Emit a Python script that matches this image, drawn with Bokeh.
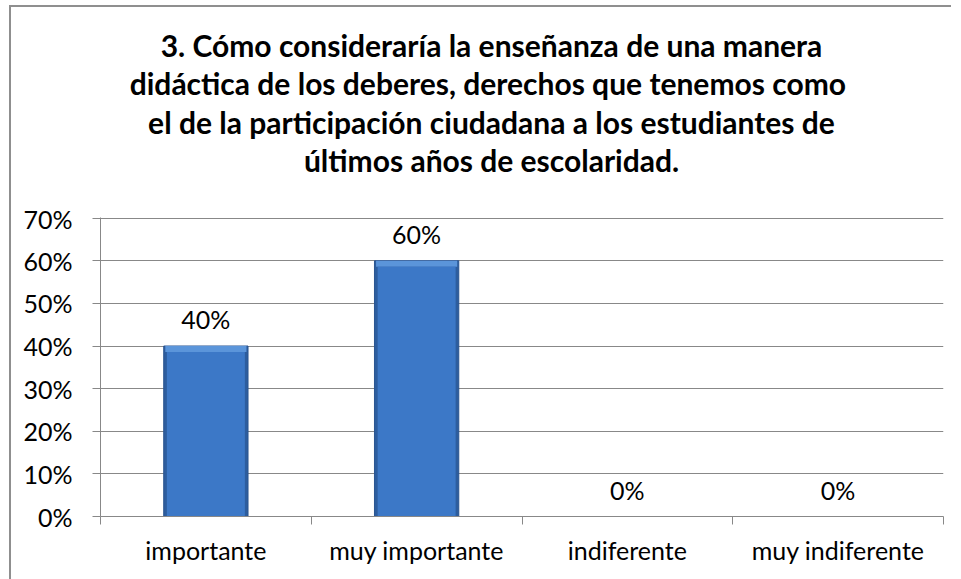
from bokeh.plotting import figure
from bokeh.layouts import column
from bokeh.models import ColumnDataSource, FixedTicker, NumeralTickFormatter, Range1d
from bokeh.core.properties import value
from bokeh.embed import file_html
from bokeh.resources import INLINE

categories = ["importante", "muy importante", "indiferente", "muy indiferente"]
percent_values = [0.40, 0.60, 0.0, 0.0]
percent_labels = ["40%", "60%", "0%", "0%"]
title_lines = [
    "3. Cómo consideraría la enseñanza de una manera",
    "didáctica de los deberes, derechos  que tenemos como",
    "el de la participación ciudadana a los estudiantes de",
    "últimos años de escolaridad.",
]
y_ticks = [0, 0.1, 0.2, 0.3, 0.4, 0.5, 0.6, 0.7]

FONT = "Lato"
GRID = "#888888"
W = 940
TITLE_H = 196
CHART_H = 376
BORDER_L, BORDER_R = 89, 8

# ---------- title figure (pixel coordinate space, frame aligned with chart frame) ----------
t = figure(width=W, height=TITLE_H, output_backend="svg", toolbar_location=None,
           x_range=Range1d(BORDER_L, W - BORDER_R), y_range=Range1d(0, TITLE_H),
           x_axis_location=None, y_axis_location=None,
           min_border_left=0, min_border_right=0, min_border_top=0, min_border_bottom=0,
           outline_line_color=None)
t.grid.visible = False
line_gap = 38.5
first_baseline = TITLE_H - 37
tsrc = ColumnDataSource(dict(
    x=[480] * len(title_lines),
    y=[first_baseline - i * line_gap for i in range(len(title_lines))],
    text=title_lines))
t.text(x="x", y="y", text="text", source=tsrc, text_align="center",
       text_baseline="alphabetic", text_font=value(FONT), text_font_style="bold",
       text_font_size="30px", text_color="#000000")

# ---------- chart figure ----------
xs = [i + 0.5 for i in range(len(categories))]
bevel = 0.014
body_top = [max(v - bevel, 0) for v in percent_values]
src = ColumnDataSource(dict(x=xs, top=percent_values, body_top=body_top, label=percent_labels))

p = figure(width=W, height=CHART_H, output_backend="svg", toolbar_location=None,
           x_range=Range1d(0, len(categories)), y_range=Range1d(0, 0.7015),
           min_border_left=BORDER_L, min_border_right=BORDER_R, min_border_top=14,
           min_border_bottom=63)
p.outline_line_color = None

p.vbar(x="x", top="top", width=0.40, bottom=0, source=src,
       fill_color="#2d5d9e", line_color="#2a5590", line_width=1)
p.vbar(x="x", top="top", bottom="body_top", width=0.385, source=src,
       fill_color="#5b95da", line_color=None)
p.vbar(x="x", top="body_top", width=0.37, bottom=0, source=src,
       fill_color="#3c78c7", line_color=None)

p.text(x="x", y="top", text="label", source=src, text_align="center",
       text_baseline="middle", y_offset=-27, text_font=value(FONT),
       text_font_size="25px", text_color="#000000")

p.yaxis.ticker = FixedTicker(ticks=y_ticks)
p.yaxis.formatter = NumeralTickFormatter(format="0%")
p.yaxis.axis_line_color = GRID
p.yaxis.major_tick_line_color = GRID
p.yaxis.major_tick_out = 8
p.yaxis.major_tick_in = 0
p.yaxis.minor_tick_line_color = None
p.yaxis.major_label_standoff = 20
p.yaxis.major_label_text_font = FONT
p.yaxis.major_label_text_font_size = "25px"
p.yaxis.major_label_text_color = "#000000"

p.xaxis.ticker = FixedTicker(ticks=xs, minor_ticks=list(range(len(categories) + 1)))
p.xaxis.major_label_overrides = {x: c for x, c in zip(xs, categories)}
p.xaxis.axis_line_color = GRID
p.xaxis.major_tick_line_color = None
p.xaxis.major_tick_out = 8
p.xaxis.minor_tick_line_color = GRID
p.xaxis.minor_tick_out = 8
p.xaxis.minor_tick_in = 0
p.xaxis.major_label_standoff = 10
p.xaxis.major_label_text_font = FONT
p.xaxis.major_label_text_font_size = "25px"
p.xaxis.major_label_text_color = "#000000"

p.xgrid.grid_line_color = None
p.ygrid.ticker = FixedTicker(ticks=y_ticks)
p.ygrid.grid_line_color = GRID
p.ygrid.grid_line_width = 1

layout = column(t, p, spacing=0)
layout.styles = {"border-left": "2px solid #8f8f8f", "border-top": "2px solid #8f8f8f",
                 "margin-left": "9px", "margin-top": "5px", "background-color": "white"}

open("out.html", "w").write(file_html(layout, INLINE))
